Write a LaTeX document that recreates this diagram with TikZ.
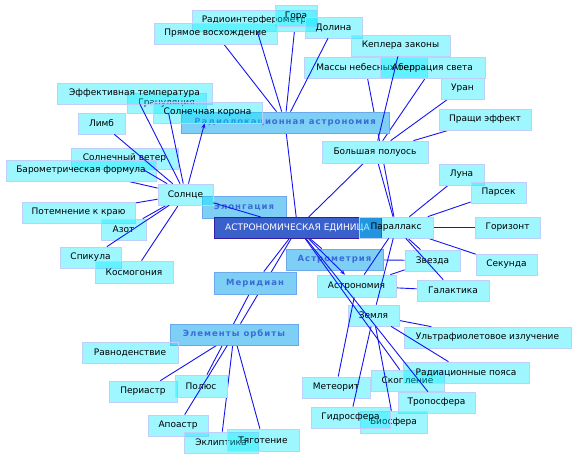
\documentclass[tikz,border=0pt]{standalone}
\usepackage{fontspec}
\setmainfont{DejaVu Sans}
\newfontfamily\catfont[LetterSpace=12]{DejaVu Sans}
\usetikzlibrary{arrows.meta}
\pgfdeclarelayer{canvas}
\pgfdeclarelayer{bgedges}
\pgfdeclarelayer{whitebase}
\pgfsetlayers{canvas,bgedges,whitebase,main}
\definecolor{boxcyan}{RGB}{0,234,255}
\definecolor{boxline}{RGB}{192,206,252}
\definecolor{catfill}{RGB}{126,207,246}
\definecolor{catline}{RGB}{108,168,234}
\definecolor{cattext}{RGB}{58,108,214}
\definecolor{aefill}{RGB}{58,96,204}
\definecolor{aeline}{RGB}{50,30,160}
\definecolor{linkblue}{RGB}{20,20,240}
\begin{document}
\begin{tikzpicture}[x=1pt,y=-1pt,
  nb/.style={rectangle, inner sep=0pt, minimum height=21pt, fill=boxcyan, fill opacity=0.38, text opacity=1, draw=boxline, draw opacity=1, line width=0.7pt, text=black, font=\fontsize{9}{10}\selectfont},
  cat/.style={rectangle, inner sep=0pt, minimum height=21pt, fill=catfill, draw=catline, line width=0.8pt, text=cattext, font=\catfont\bfseries\fontsize{8.5}{10}\selectfont},
  aeb/.style={rectangle, inner sep=0pt, minimum height=21pt, fill=aefill, draw=aeline, line width=1pt, text=white, font=\fontsize{9}{10}\selectfont},
  conn/.style={draw=linkblue, line width=0.9pt},
  arr/.style={conn, -{Stealth[length=5pt,width=4pt]}}
]
\begin{pgfonlayer}{canvas}
\fill[white] (0,0) rectangle (576,459);
\end{pgfonlayer}
\useasboundingbox (0,0) rectangle (576,459);

\node[nb, minimum width=124pt] (ri) at (254,20.5) {Радиоинтерферометр};
\node[nb, minimum width=42pt] (gora) at (296,16) {Гора};
\node[nb, minimum width=123pt] (pv) at (215.5,33.5) {Прямое восхождение};
\node[nb, minimum width=57pt] (dol) at (333.5,27.5) {Долина};
\node[nb, minimum width=99pt] (kep) at (400.5,45.5) {Кеплера законы};
\node[nb, minimum width=123pt] (mass) at (365.5,67.5) {Массы небесных тел};
\node[nb, minimum width=105pt] (aber) at (432.5,67.5) {Аберрация света};
\node[nb, minimum width=43pt] (uran) at (462.5,88.5) {Уран};
\node[nb, minimum width=92pt] (prash) at (485,119.5) {Пращи эффект};
\node[nb, minimum width=106pt, minimum height=22pt] (bp) at (375,152) {Большая полуось};
\node[cat, minimum width=208pt] (rad) at (285,122.5) {Радиолокационная астрономия};
\node[nb, minimum width=79pt, minimum height=20pt] (gran) at (166.5,103) {Грануляция};
\node[nb, minimum width=155pt] (eff) at (134.5,93.5) {Эффективная температура};
\node[nb, minimum width=109pt] (kor) at (207.5,112.5) {Солнечная корона};
\node[nb, minimum width=47pt] (limb) at (101.5,123.5) {Лимб};
\node[nb, minimum width=107pt] (veter) at (124.5,158.5) {Солнечный ветер};
\node[nb, minimum width=150pt] (baro) at (81,170.5) {Барометрическая формула};
\node[cat, minimum width=84pt, minimum height=22pt] (elong) at (244,207) {Элонгация};
\node[nb, minimum width=55pt] (sun) at (185.5,194.5) {Солнце};
\node[nb, minimum width=113pt] (pot) at (78.5,212.5) {Потемнение к краю};
\node[nb, minimum width=45pt] (azot) at (123.5,229.5) {Азот};
\node[nb, minimum width=61pt] (spik) at (90.5,257.5) {Спикула};
\node[nb, minimum width=78pt, minimum height=22pt] (kosm) at (134,272) {Космогония};
\node[aeb, minimum width=167pt] (ae) at (297.5,228) {АСТРОНОМИЧЕСКАЯ ЕДИНИЦА};
\node[nb, minimum width=74pt] (par) at (396,227.5) {Параллакс};
\node[cat, minimum width=97pt] (astrom) at (334.5,259.5) {Астрометрия};
\node[cat, minimum width=82pt, minimum height=22pt] (mer) at (255,283) {Меридиан};
\node[nb, minimum width=79pt, minimum height=22pt] (astron) at (356.5,286) {Астрономия};
\node[nb, minimum width=45pt] (luna) at (461.5,174.5) {Луна};
\node[nb, minimum width=55pt] (parsek) at (498.5,192.5) {Парсек};
\node[nb, minimum width=65pt] (gor) at (507.5,227.5) {Горизонт};
\node[nb, minimum width=61pt] (sek) at (506.5,264.5) {Секунда};
\node[nb, minimum width=55pt] (zv) at (432.5,260.5) {Звезда};
\node[nb, minimum width=72pt] (gal) at (453,290.5) {Галактика};
\node[nb, minimum width=51pt] (zem) at (373.5,315.5) {Земля};
\node[nb, minimum width=167pt] (uf) at (487.5,337.5) {Ультрафиолетовое излучение};
\node[nb, minimum width=73pt] (skop) at (407.5,380.5) {Скопление};
\node[nb, minimum width=126pt] (rp) at (466,372.5) {Радиационные пояса};
\node[nb, minimum width=68pt] (met) at (336,387.5) {Метеорит};
\node[nb, minimum width=77pt] (trop) at (436.5,402.5) {Тропосфера};
\node[nb, minimum width=67pt, minimum height=22pt] (bio) at (393.5,422) {Биосфера};
\node[nb, minimum width=79pt] (gid) at (350.5,417.5) {Гидросфера};
\node[cat, minimum width=128pt] (eo) at (234,334.5) {Элементы орбиты};
\node[nb, minimum width=96pt] (ravn) at (130,352.5) {Равноденствие};
\node[nb, minimum width=68pt] (peri) at (143,391.5) {Периастр};
\node[nb, minimum width=52pt, minimum height=22pt] (pol) at (201,386) {Полюс};
\node[nb, minimum width=60pt] (apo) at (178,425.5) {Апоастр};
\node[nb, minimum width=74pt] (ekl) at (221,442.5) {Эклиптика};
\node[nb, minimum width=72pt, minimum height=22pt] (tyag) at (263,440) {Тяготение};

\begin{pgfonlayer}{whitebase}
\foreach \n in {ri,gora,pv,dol,kep,mass,aber,uran,prash,bp,rad,gran,eff,kor,limb,veter,baro,elong,sun,pot,azot,spik,kosm,ae,par,astrom,mer,astron,luna,parsek,gor,sek,zv,gal,zem,uf,skop,rp,met,trop,bio,gid,eo,ravn,peri,pol,apo,ekl,tyag}
  {\fill[white] (\n.south west) rectangle (\n.north east);}
\end{pgfonlayer}

\begin{pgfonlayer}{bgedges}
\draw[conn] (rad) -- (pv);
\draw[conn] (rad) -- (gora);
\draw[conn] (rad) -- (ae);
\draw[conn] (sun) -- (baro);
\draw[conn] (sun) -- (pot);
\draw[conn] (sun) -- (azot);
\draw[conn] (sun) -- (kosm);
\draw[conn] (ae) -- (bp);
\draw[conn] (ae) -- (elong);
\draw[conn] (ae) -- (astrom);
\draw[conn] (ae) -- (par);
\draw[conn] (ae) -- (mer);
\draw[conn] (ae) -- (eo);
\draw[conn] (mer) -- (pol);
\draw[conn] (mass) -- (par);
\draw[conn] (bp) -- (par);
\draw[conn] (bp) -- (aber);
\draw[conn] (bp) -- (uran);
\draw[conn] (bp) -- (prash);
\draw[conn] (par) -- (luna);
\draw[conn] (par) -- (parsek);
\draw[conn] (par) -- (gor);
\draw[conn] (par) -- (sek);
\draw[conn] (par) -- (zv);
\draw[conn] (astrom) -- (zv);
\draw[conn] (astron) -- (zv);
\draw[conn] (astron) -- (gal);
\draw[conn] (zem) -- (uf);
\draw[conn] (eo) -- (ravn);
\draw[conn] (eo) -- (peri);
\draw[conn] (eo) -- (ekl);
\draw[conn] (eo) -- (tyag);
\end{pgfonlayer}

\draw[conn] (rad) -- (ri);
\draw[conn] (rad) -- (dol);
\draw[arr] (sun) -- (kor);
\draw[conn] (sun) -- (eff);
\draw[conn] (sun) -- (gran);
\draw[conn] (sun) -- (veter);
\draw[conn] (sun) -- (limb);
\draw[conn] (sun) -- (spik);
\draw[conn] (sun) -- (ae);
\draw[conn] (bp) -- (kep);
\draw[arr] (ae) -- (astron);
\draw[conn] (ae) -- (skop);
\draw[conn] (ae) -- (trop);
\draw[conn] (par) -- (gal);
\draw[conn] (par) -- (astron);
\draw[conn] (par) -- (zem);
\draw[conn] (astron) -- (met);
\draw[conn] (zem) -- (rp);
\draw[conn] (zem) -- (gid);
\draw[conn] (zem) -- (bio);
\draw[conn] (eo) -- (apo);
\end{tikzpicture}
\end{document}
